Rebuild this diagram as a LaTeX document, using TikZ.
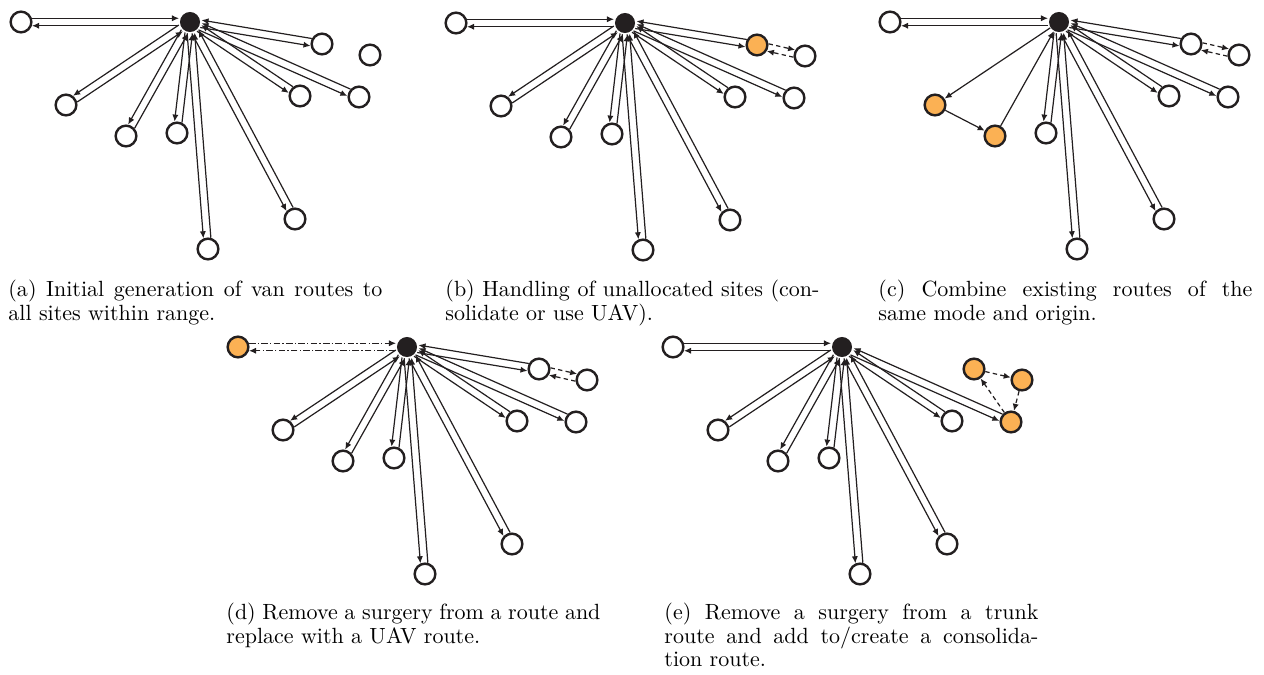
\documentclass[tikz,border=0pt]{standalone}
\usepackage{amsmath}
\usetikzlibrary{calc,arrows.meta}

\definecolor{ink}{RGB}{35,31,32}
\definecolor{siteorange}{RGB}{251,177,84}

% site positions, relative to the depot (pixels, y down)
\newcommand{\sitelist}{A/-169/0, B/132/22, C/180/33, D/-124/83, E/-64/114,
  F/-13/111, G/110/74, H/169/75, I/105/197, J/18/227}

% out and back pair of arrows, side by side
\newcommand{\twoway}[4][1.7pt]{%
  \draw[route, shorten <=5pt, shorten >=5pt, #2] ($(#3)!#1!-90:(#4)$) -- ($(#4)!#1!90:(#3)$);
  \draw[route, shorten <=5pt, shorten >=5pt, #2] ($(#4)!#1!-90:(#3)$) -- ($(#3)!#1!90:(#4)$);
}

\tikzset{
  site/.style={circle, draw=ink, line width=1.1pt, fill=white, minimum size=9.4pt, inner sep=0pt},
  uav/.style={fill=siteorange},
  depot/.style={circle, fill=ink, minimum size=9.1pt, inner sep=0pt},
  route/.style={-{Latex[length=3.2pt,width=2.8pt]}, draw=ink, line width=0.55pt},
  hop/.style={route, dash pattern=on 2pt off 1.5pt},
  uavline/.style={dash pattern=on 3pt off 1pt on 0.6pt off 1pt},
  caption/.style={text width=170pt, align=justify, anchor=north west, inner sep=0pt,
    font=\fontsize{10pt}{10.5pt}\selectfont},
}

\begin{document}
\begin{tikzpicture}[x=0.4545pt, y=-0.4545pt]
  \useasboundingbox (0,0) rectangle (1264,675);

  % (a)
  \begin{scope}[shift={(190,22)}]
    \node[depot] (adep) at (0,0) {};
    \foreach \n/\x/\y in \sitelist
      \node[site] (a\n) at (\x,\y) {};
    \twoway[-1.7pt]{}{adep}{aA}
    \foreach \n in {B,D,E,F,G,H,I,J}
      {\twoway{}{adep}{a\n}}
  \end{scope}

  % (b)
  \begin{scope}[shift={(625,23)}, hl B/.style={uav}]
    \node[depot] (bdep) at (0,0) {};
    \foreach \n/\x/\y in \sitelist
      \node[site, hl \n/.try] (b\n) at (\x,\y) {};
    \twoway[-1.7pt]{}{bdep}{bA}
    \foreach \n in {B,D,E,F,G,H,I,J}
      {\twoway{}{bdep}{b\n}}
    \twoway[-1.7pt]{dash pattern=on 2pt off 1.5pt}{bB}{bC}
  \end{scope}

  % (c)
  \begin{scope}[shift={(1059,22)}, hl D/.style={uav}, hl E/.style={uav}]
    \node[depot] (cdep) at (0,0) {};
    \foreach \n/\x/\y in \sitelist
      \node[site, hl \n/.try] (c\n) at (\x,\y) {};
    \twoway[-1.7pt]{}{cdep}{cA}
    \foreach \n in {B,F,G,H,I,J}
      {\twoway{}{cdep}{c\n}}
    \twoway[-1.7pt]{dash pattern=on 2pt off 1.5pt}{cB}{cC}
    \draw[route] (cdep) -- (cD);
    \draw[route] (cD) -- (cE);
    \draw[route] (cE) -- (cdep);
  \end{scope}

  % (d)
  \begin{scope}[shift={(407,347)}, hl A/.style={uav}]
    \node[depot] (ddep) at (0,0) {};
    \foreach \n/\x/\y in \sitelist
      \node[site, hl \n/.try] (d\n) at (\x,\y) {};
    \twoway[-1.7pt]{uavline}{ddep}{dA}
    \foreach \n in {B,D,E,F,G,H,I,J}
      {\twoway{}{ddep}{d\n}}
    \twoway[-1.7pt]{dash pattern=on 2pt off 1.5pt}{dB}{dC}
  \end{scope}

  % (e)
  \begin{scope}[shift={(842,347)}, hl B/.style={uav}, hl C/.style={uav}, hl H/.style={uav}]
    \node[depot] (edep) at (0,0) {};
    \foreach \n/\x/\y in \sitelist
      \node[site, hl \n/.try] (e\n) at (\x,\y) {};
    \twoway[-1.7pt]{}{edep}{eA}
    \foreach \n in {D,E,F,G,H,I,J}
      {\twoway{}{edep}{e\n}}
    \draw[hop] (eB) -- (eC);
    \draw[hop] (eC) -- (eH);
    \draw[hop] (eH) -- (eB);
  \end{scope}

  % captions
  \node[caption] (capa) at (8,280) {(a) Initial generation of van routes to\linebreak
    all sites within range.};
  \node[caption] (capb) at (445,280) {(b) Handling of unallocated sites (con-\linebreak
    solidate or use UAV).};
  \node[caption] (capc) at (878,280) {(c) Combine existing routes of the\linebreak
    same mode and origin.};
  \node[caption] (capd) at (226,603) {(d) Remove a surgery from a route and\linebreak
    replace with a UAV route.};
  \node[caption] (cape) at (664,603) {(e) Remove a surgery from a trunk\linebreak
    route and add to/create a consolida-\linebreak tion route.};
\end{tikzpicture}
\end{document}
